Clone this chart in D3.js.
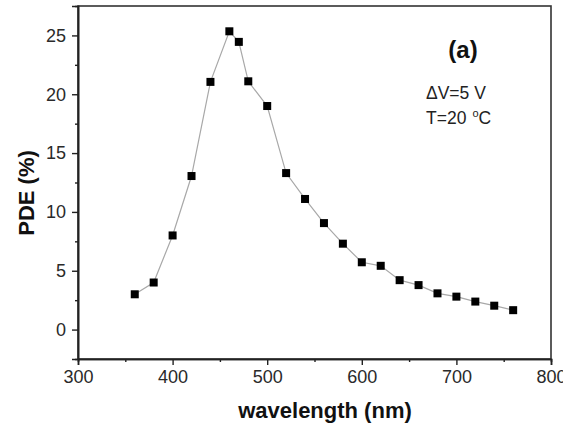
<!DOCTYPE html>
<html>
<head>
<meta charset="utf-8">
<script src="https://cdn.jsdelivr.net/npm/d3@7"></script>
<style>
  body { margin: 0; background: #fff; }
  svg { display: block; font-family: Arial, "Liberation Sans", sans-serif; }
</style>
</head>
<body>
<div id="chart"></div>
<script>
// Data
var wavelength = [360, 380, 400, 420, 440, 460, 470, 480, 500, 520, 540, 560, 580, 600, 620, 640, 660, 680, 700, 720, 740, 760]
var pde = [3.0, 4.0, 8.0, 13.05, 21.05, 25.35, 24.45, 21.1, 19.0, 13.3, 11.1, 9.05, 7.3, 5.72, 5.42, 4.2, 3.78, 3.08, 2.8, 2.38, 2.03, 1.65]
var xTicks = [300, 400, 500, 600, 700, 800]
var yTicks = [0, 5, 10, 15, 20, 25]
var xMinor = [350, 450, 550, 650, 750]
var yMinor = [2.5, 7.5, 12.5, 17.5, 22.5]

var width = 563, height = 424
var margin = { top: 6, right: 12, bottom: 65, left: 78 }
var innerW = 551 - margin.left
var innerH = 359 - margin.top

var svg = d3.select('#chart').append('svg')
  .attr('width', width)
  .attr('height', height)

var g = svg.append('g')
  .attr('transform', 'translate(' + margin.left + ',' + margin.top + ')')

var x = d3.scaleLinear().domain([300, 800]).range([0, innerW])
var y = d3.scaleLinear().domain([-2.5, 27.5]).range([innerH, 0])

// frame
g.append('rect')
  .attr('width', innerW)
  .attr('height', innerH)
  .attr('fill', 'none')
  .attr('stroke', '#333')
  .attr('stroke-width', 1.6)

// axes
var xAxis = g.append('g')
  .attr('transform', 'translate(0,' + innerH + ')')
  .call(d3.axisBottom(x).tickValues(xTicks).tickSize(6).tickPadding(5).tickFormat(d3.format('d')))
var xAxisMinor = g.append('g')
  .attr('transform', 'translate(0,' + innerH + ')')
  .call(d3.axisBottom(x).tickValues(xMinor).tickSize(3).tickFormat(''))
var yAxis = g.append('g')
  .call(d3.axisLeft(y).tickValues(yTicks).tickSize(6).tickPadding(6).tickFormat(d3.format('d')))
var yAxisMinor = g.append('g')
  .call(d3.axisLeft(y).tickValues(yMinor).tickSize(3).tickFormat(''))

;[xAxis, xAxisMinor, yAxis, yAxisMinor].forEach(function (a) {
  a.select('.domain').attr('stroke', '#222').attr('stroke-width', 1.6)
  a.selectAll('line').attr('stroke', '#222').attr('stroke-width', 1.4)
  a.selectAll('text')
    .attr('fill', '#2a2a2a')
    .style('font-size', '18px')
    .style('font-family', 'Arial, "Liberation Sans", sans-serif')
})

// connecting line
var data = wavelength.map(function (w, i) { return { x: w, y: pde[i] } })
g.append('path')
  .datum(data)
  .attr('fill', 'none')
  .attr('stroke', '#a8a8a8')
  .attr('stroke-width', 1.2)
  .attr('d', d3.line().x(function (d) { return x(d.x) }).y(function (d) { return y(d.y) }))

// square markers
var s = 8
g.selectAll('.pt')
  .data(data)
  .enter().append('rect')
  .attr('class', 'pt')
  .attr('x', function (d) { return x(d.x) - s / 2 })
  .attr('y', function (d) { return y(d.y) - s / 2 })
  .attr('width', s)
  .attr('height', s)
  .attr('fill', '#000')

// axis titles
svg.append('text')
  .attr('x', 325)
  .attr('y', 418)
  .attr('text-anchor', 'middle')
  .style('font-size', '22px')
  .style('font-weight', 'bold')
  .attr('fill', '#111')
  .text('wavelength (nm)')

svg.append('text')
  .attr('transform', 'translate(34,193) rotate(-90)')
  .attr('text-anchor', 'middle')
  .style('font-size', '22px')
  .style('font-weight', 'bold')
  .attr('fill', '#111')
  .text('PDE (%)')

// annotations
svg.append('text')
  .attr('x', 463)
  .attr('y', 58)
  .attr('text-anchor', 'middle')
  .style('font-size', '24px')
  .style('font-weight', 'bold')
  .attr('fill', '#111')
  .text('(a)')

svg.append('text')
  .attr('x', 426)
  .attr('y', 99)
  .style('font-size', '17.5px')
  .attr('fill', '#222')
  .text('ΔV=5 V')

var t = svg.append('text')
  .attr('x', 426)
  .attr('y', 124)
  .style('font-size', '17.5px')
  .attr('fill', '#222')
t.append('tspan').text('T=20')
t.append('tspan').attr('dx', 6).attr('dy', -7).style('font-size', '11px').text('o')
t.append('tspan').attr('dy', 7).text('C')
</script>
</body>
</html>
